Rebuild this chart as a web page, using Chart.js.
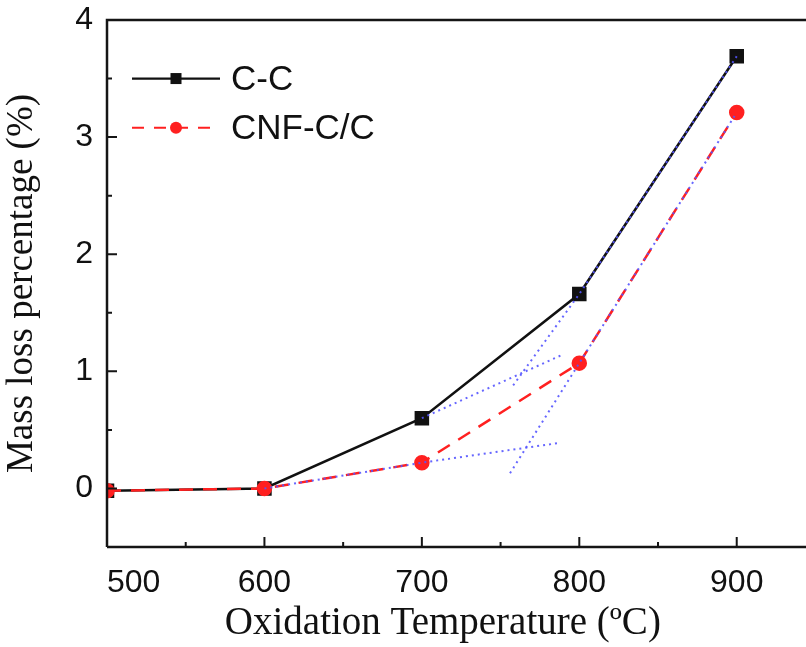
<!DOCTYPE html>
<html><head><meta charset="utf-8">
<script src="https://cdn.jsdelivr.net/npm/chart.js@4"></script>
<style>html,body{margin:0;padding:0;background:#fff}</style>
</head><body>
<div style="width:806px;height:647px"><canvas id="c" width="806" height="647"></canvas></div>
<script>
// ---- data ----
const temperatures = [500, 600, 700, 800, 900];
const ccLoss  = [-0.02, 0.00, 0.60, 1.66, 3.69];
const cnfLoss = [-0.02, 0.00, 0.22, 1.07, 3.21];
// blue tangent guide lines
const guide1X = [600, 700, 788], guide1Y = [0.00, 0.22, 0.39];
const guide2X = [700, 789],      guide2Y = [0.60, 1.14];
const guide3X = [756, 800, 900], guide3Y = [0.13, 1.07, 3.21];
const guide4X = [758, 800, 900], guide4Y = [0.88, 1.66, 3.69];
const xTickLabels = ['500', '600', '700', '800', '900'];
const yTickLabels = ['0', '1', '2', '3', '4'];
const seriesNames = ['C-C', 'CNF-C/C'];

const pts = (xs, ys) => xs.map((x, i) => ({x, y: ys[i]}));
const BLUE = 'rgba(85,85,255,0.9)';
const guideStyle = {showLine: true, borderColor: BLUE, borderWidth: 2, borderDash: [2, 4], pointRadius: 0, order: 0, fill: false};

const framePlugin = {
  id: 'frame',
  afterLayout(chart) {
    // plot area runs off the right edge of the picture (right axis cropped)
    const a = chart.chartArea, x = chart.scales.x;
    a.right = chart.width; a.width = a.right - a.left;
    x.right = chart.width; x.width = x.right - x.left;
    x.configure();
  },
  afterDatasetsDraw(chart) {
    const {ctx, chartArea: a, scales: {x, y}} = chart;
    ctx.save();
    ctx.strokeStyle = '#151515';
    ctx.lineWidth = 2.5;
    ctx.beginPath();
    ctx.moveTo(a.left, a.bottom); ctx.lineTo(a.left, a.top); ctx.lineTo(chart.width + 5, a.top);
    ctx.moveTo(a.left, a.bottom); ctx.lineTo(chart.width + 5, a.bottom);
    ctx.stroke();
    ctx.lineWidth = 2;
    ctx.beginPath();
    for (let v = 500; v <= 950; v += 50) {
      const px = x.getPixelForValue(v);
      if (px > chart.width) break;
      const len = v % 100 === 0 ? 10 : 5;
      ctx.moveTo(px, a.bottom); ctx.lineTo(px, a.bottom - len);
    }
    for (let v = -0.5; v <= 4.0001; v += 0.5) {
      const py = y.getPixelForValue(v);
      const len = Math.abs(v - Math.round(v)) < 1e-6 ? 10 : 5;
      ctx.moveTo(a.left, py); ctx.lineTo(a.left + len, py);
    }
    ctx.stroke();
    // legend inside plot
    const items = [
      {name: seriesNames[0], color: '#111', dash: [], shape: 'rect', yv: 3.5},
      {name: seriesNames[1], color: '#ff2020', dash: [12, 10], shape: 'circle', yv: 3.08}
    ];
    items.forEach((it) => {
      const py = y.getPixelForValue(it.yv);
      ctx.strokeStyle = it.color; ctx.fillStyle = it.color;
      ctx.lineWidth = 2.2; ctx.setLineDash(it.dash);
      ctx.beginPath(); ctx.moveTo(a.left + 25, py); ctx.lineTo(a.left + 113, py); ctx.stroke();
      ctx.setLineDash([]);
      const mx = a.left + 69;
      if (it.shape === 'rect') ctx.fillRect(mx - 5.5, py - 5.5, 11, 11);
      else { ctx.beginPath(); ctx.arc(mx, py, 6, 0, Math.PI * 2); ctx.fill(); }
      ctx.fillStyle = '#111';
      ctx.font = '35px "Liberation Sans", Arial, sans-serif';
      ctx.textBaseline = 'middle'; ctx.textAlign = 'left';
      ctx.fillText(it.name, a.left + 124, py + 2);
    });
    ctx.restore();
  }
};

new Chart(document.getElementById('c'), {
  type: 'scatter',
  data: {
    datasets: [
      {label: seriesNames[0], data: pts(temperatures, ccLoss), showLine: true, borderColor: '#111', backgroundColor: '#111',
       borderWidth: 2.5, pointStyle: 'rect', pointRadius: 8.5, order: 2},
      {label: seriesNames[1], data: pts(temperatures, cnfLoss), showLine: true, borderColor: '#ff2020', backgroundColor: '#ff2020',
       borderWidth: 2.5, borderDash: [14, 10], pointStyle: 'circle', pointRadius: 6.5, order: 1},
      Object.assign({label: 'g1', data: pts(guide1X, guide1Y)}, guideStyle),
      Object.assign({label: 'g2', data: pts(guide2X, guide2Y)}, guideStyle),
      Object.assign({label: 'g3', data: pts(guide3X, guide3Y)}, guideStyle),
      Object.assign({label: 'g4', data: pts(guide4X, guide4Y)}, guideStyle)
    ]
  },
  options: {
    responsive: false,
    animation: false,
    layout: {padding: {top: 20, right: 0, left: 0, bottom: 0}},
    plugins: {legend: {display: false}, tooltip: {enabled: false}},
    scales: {
      x: {
        type: 'linear', min: 500, max: 944,
        afterBuildTicks(s) { s.ticks = xTickLabels.map(t => ({value: Number(t)})).concat([{value: 944}]); },
        afterFit(s) { s.height = 100; s.paddingLeft = 0; s.paddingRight = 0; },
        grid: {display: false, drawTicks: false},
        border: {display: false},
        ticks: {
          align: 'inner',
          padding: 17,
          color: '#111',
          font: {family: '"Liberation Sans", Arial, sans-serif', size: 32},
          callback: v => xTickLabels.includes(String(v)) ? String(v) : ''
        },
        title: {display: true, text: 'Oxidation Temperature (ºC)\u2002\u2009', color: '#111',
          font: {family: '"Liberation Serif", "Times New Roman", serif', size: 39, lineHeight: 1.2}, padding: {top: 0, bottom: 0}}
      },
      y: {
        type: 'linear', min: -0.5, max: 4,
        afterBuildTicks(s) { s.ticks = yTickLabels.map(t => ({value: Number(t)})); },
        afterFit(s) { s.width = 107; s.paddingTop = 0; s.paddingBottom = 0; },
        grid: {display: false, drawTicks: false},
        border: {display: false},
        ticks: {
          padding: 14,
          color: '#111',
          font: {family: '"Liberation Sans", Arial, sans-serif', size: 32},
          callback: v => String(v)
        },
        title: {display: true, text: 'Mass loss percentage (%)', color: '#111',
          font: {family: '"Liberation Serif", "Times New Roman", serif', size: 37, lineHeight: 1.2}, padding: {top: 0, bottom: 0}}
      }
    }
  },
  plugins: [framePlugin]
});
</script>
</body></html>
